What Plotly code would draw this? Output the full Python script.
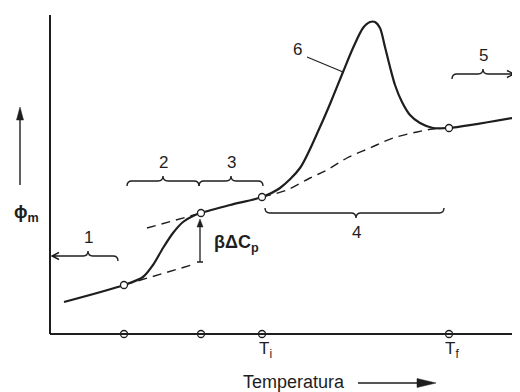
import math
import plotly.graph_objects as go

# ---- data (temperature units along x, phi_m units along y) ----
curve_T = [14, 74, 93, 103, 113, 123, 133, 143, 151, 180, 212, 230, 250, 270, 280, 293,
           303, 313, 320, 325, 330, 335, 340, 345, 352, 360, 370, 383, 399, 468]
curve_phi = [32, 49, 57, 69, 86, 101, 112, 118, 121, 129, 137, 146, 166, 207, 230, 262,
             286, 306, 312, 312, 306, 287, 267, 249, 232, 219, 211, 206, 206, 217]

glass_low_T = [74, 145]          # extrapolated glassy baseline
glass_low_phi = [49, 70]
glass_up_T = [97, 151]           # extrapolated liquid baseline
glass_up_phi = [106, 121]

base_T = [212, 237, 260, 277, 297, 320, 343, 367, 383, 399]   # baseline under peak
base_phi = [137, 144, 156, 164, 176, 186, 196, 202, 205, 206]

mark_T = [74, 151, 212, 399]
mark_phi = [49, 121, 137, 206]
tick_text = ["", "", "T<sub>i</sub>", "T<sub>f</sub>"]

# brace spans: (start, end, tip, level, tip direction, left end, right end, label)
braces = [
    (2, 68, 38, 78, 1, "arrow", "curl", "1"),
    (77, 149, 113, 153, 1, "curl", "curl", "2"),
    (149, 213, 181, 153, 1, "curl", "curl", "3"),
    (215, 394, 306, 121, -1, "curl", "curl", "4"),
    (402, 464, 433, 260, 1, "curl", "arrow", "5"),
]

INK = "#1e1e1e"
FONT = "Liberation Sans, Arial, sans-serif"

fig = go.Figure()

# dashed construction lines
for xs, ys in [(glass_low_T, glass_low_phi), (glass_up_T, glass_up_phi), (base_T, base_phi)]:
    fig.add_trace(go.Scatter(x=xs, y=ys, mode="lines",
                             line=dict(color=INK, width=1.4, dash="9px,6px", shape="spline"),
                             hoverinfo="skip"))

# main curve
fig.add_trace(go.Scatter(x=curve_T, y=curve_phi, mode="lines",
                         line=dict(color=INK, width=2.2, shape="spline", smoothing=0.8),
                         hoverinfo="skip"))

# axes (drawn in data space)
fig.add_shape(type="line", x0=0, y0=0, x1=0, y1=319, line=dict(color=INK, width=2))
fig.add_shape(type="line", x0=0, y0=0, x1=470, y1=0, line=dict(color=INK, width=2))

# open circles on curve and on the axis
fig.add_trace(go.Scatter(x=mark_T, y=mark_phi, mode="markers",
                         marker=dict(symbol="circle", size=7, color="white",
                                     line=dict(color=INK, width=1.3)),
                         hoverinfo="skip", cliponaxis=False))
fig.add_trace(go.Scatter(x=mark_T, y=[0] * len(mark_T), mode="markers",
                         marker=dict(symbol="circle", size=7, color="white",
                                     line=dict(color=INK, width=1.3)),
                         hoverinfo="skip", cliponaxis=False))

# tick labels T_i, T_f
for t, lab in zip(mark_T, tick_text):
    if lab:
        fig.add_annotation(x=t + 3, y=-16, text=lab, showarrow=False,
                           font=dict(family=FONT, size=17, color=INK))


def arrow(x0, y0, x1, y1, width, head_len, head_half):
    """straight arrow from (x0,y0) to tip (x1,y1), filled head."""
    dx, dy = x1 - x0, y1 - y0
    L = math.hypot(dx, dy)
    ux, uy = dx / L, dy / L
    bx, by = x1 - ux * head_len, y1 - uy * head_len
    fig.add_shape(type="line", x0=x0, y0=y0, x1=bx, y1=by, line=dict(color=INK, width=width))
    px, py = -uy * head_half, ux * head_half
    fig.add_shape(type="path",
                  path=f"M{x1},{y1} L{bx + px},{by + py} L{bx - px},{by - py} Z",
                  fillcolor=INK, line=dict(color=INK, width=0.5))


# braces
def brace_path(x0, x1, xm, y, s, left, right, c=5):
    p = []
    if left == "curl":
        p.append(f"M{x0},{y - s * c} Q{x0},{y} {x0 + c},{y}")
    else:
        p.append(f"M{x0},{y}")
    p.append(f"L{xm - c},{y} Q{xm},{y} {xm},{y + s * c} Q{xm},{y} {xm + c},{y}")
    if right == "curl":
        p.append(f"L{x1 - c},{y} Q{x1},{y} {x1},{y - s * c}")
    else:
        p.append(f"L{x1},{y}")
    if left == "arrow":
        p.append(f"M{x0 + 7},{y + 3.5} L{x0},{y} L{x0 + 7},{y - 3.5}")
    if right == "arrow":
        p.append(f"M{x1 - 7},{y + 3.5} L{x1},{y} L{x1 - 7},{y - 3.5}")
    return " ".join(p)


for x0, x1, xm, y, s, le, re, lab in braces:
    fig.add_shape(type="path", path=brace_path(x0, x1, xm, y, s, le, re),
                  line=dict(color=INK, width=1.4))
    fig.add_annotation(x=xm, y=y + s * 19, text=lab, showarrow=False,
                       font=dict(family=FONT, size=17, color=INK))

# label 6 with leader line
fig.add_shape(type="line", x0=257, y0=277, x1=293, y1=262, line=dict(color=INK, width=1.1))
fig.add_annotation(x=247, y=285, text="6", showarrow=False,
                   font=dict(family=FONT, size=17, color=INK))

# beta delta Cp arrow
arrow(150, 72, 150, 115, 1.3, 8, 3)
fig.add_shape(type="line", x0=147, y0=72, x1=153, y1=72, line=dict(color=INK, width=1.5))
fig.add_annotation(x=186, y=91, text="<b>βΔC<sub>p</sub></b>", showarrow=False,
                   font=dict(family=FONT, size=18, color=INK))

# y label and arrow
arrow(-30, 149, -30, 227, 1.4, 13, 3.5)
fig.add_annotation(x=-24, y=121, text="<b>ϕ<sub>m</sub></b>", showarrow=False,
                   font=dict(family=FONT, size=18, color=INK))

# x label and arrow
fig.add_annotation(x=244, y=-48, text="Temperatura", showarrow=False,
                   font=dict(family=FONT, size=18, color=INK))
arrow(308, -49, 386, -49, 1.5, 19, 4.5)

# The page body has an 8px margin, so the figure covers reference pixels 8..520 x 8..392
fig.update_layout(
    width=512, height=384,
    margin=dict(l=0, r=0, t=0, b=0),
    paper_bgcolor="white", plot_bgcolor="white",
    showlegend=False,
    xaxis=dict(range=[-42, 470], visible=False, fixedrange=True),
    yaxis=dict(range=[-58, 326], visible=False, fixedrange=True),
)

fig.write_html("out.html")
